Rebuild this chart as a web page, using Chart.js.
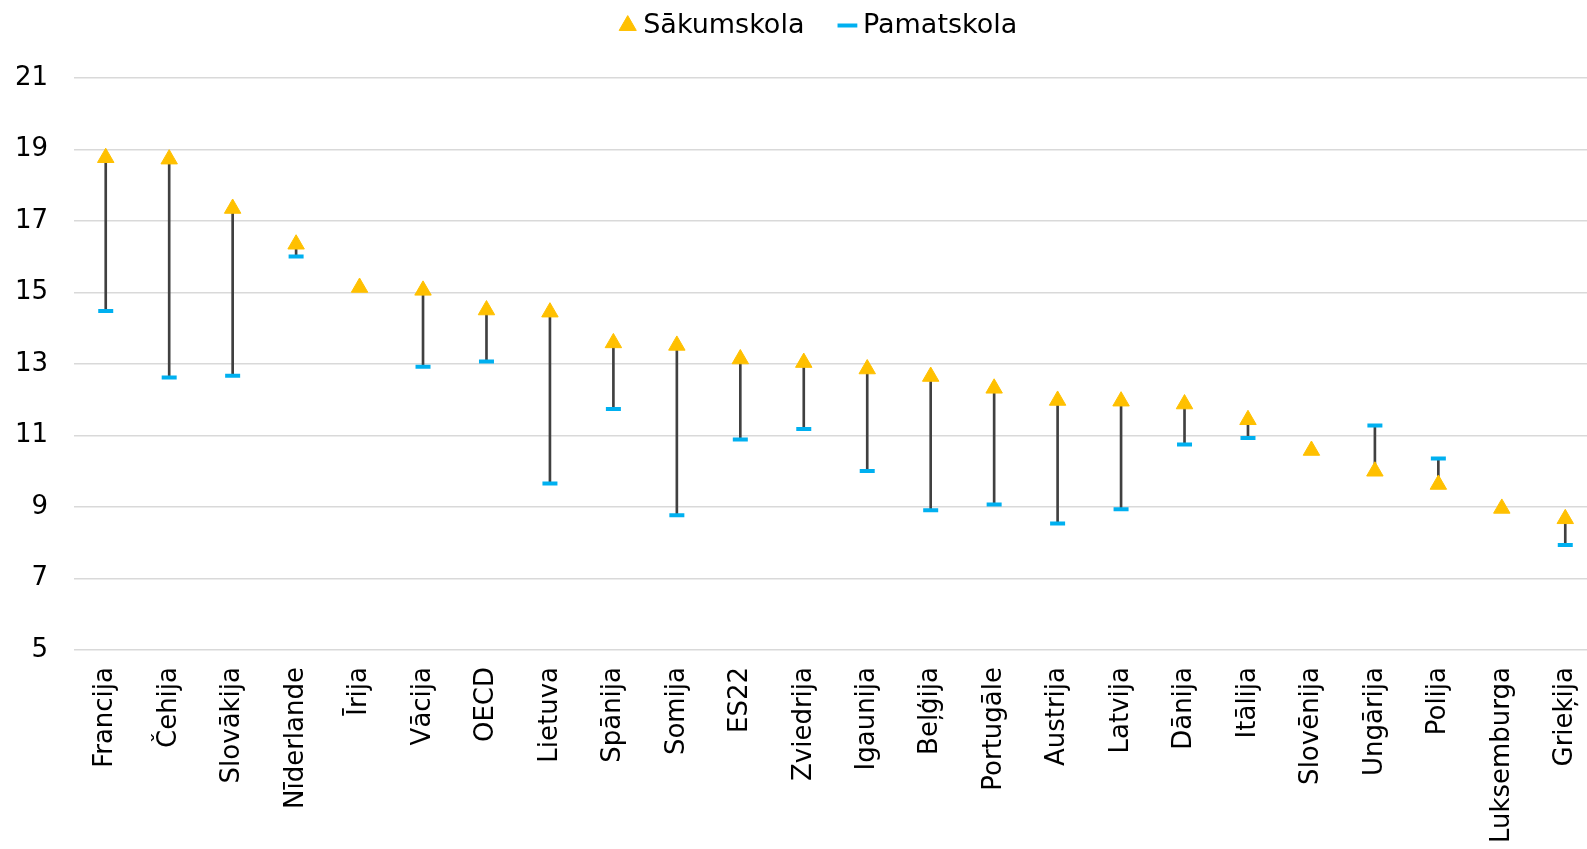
<!DOCTYPE html>
<html>
<head>
<meta charset="utf-8">
<script src="https://cdn.jsdelivr.net/npm/chart.js@4.4.1/dist/chart.umd.min.js"></script>
<style>
  html, body { margin: 0; padding: 0; background: #fff; overflow: hidden; }
  #wrap { width: 1620px; height: 849px; }
</style>
</head>
<body>
<div id="wrap"><canvas id="skolaChart"></canvas></div>
<script>
// Valstis (kategorijas)
var valstis = ['Francija', 'Čehija', 'Slovākija', 'Nīderlande', 'Īrija', 'Vācija', 'OECD', 'Lietuva',
    'Spānija', 'Somija', 'ES22', 'Zviedrija', 'Igaunija', 'Beļģija', 'Portugāle', 'Austrija',
    'Latvija', 'Dānija', 'Itālija', 'Slovēnija', 'Ungārija', 'Polija', 'Luksemburga', 'Grieķija'];

// Sākumskola (trijstūri)
var sakumskola = [18.77, 18.73, 17.35, 16.35, 15.14, 15.06, 14.51, 14.45, 13.59, 13.52, 13.14, 13.04,
    12.86, 12.65, 12.32, 11.98, 11.96, 11.88, 11.44, 10.58, 10.0, 9.63, 8.96, 8.67];

// Pamatskola (svītras)
var pamatskola = [14.48, 12.62, 12.67, 16.01, null, 12.92, 13.07, 9.66, 11.74, 8.77, 10.89, 11.18,
    10.01, 8.91, 9.07, 8.54, 8.94, 10.75, 10.93, null, 11.28, 10.36, null, 7.94];

// Ass
var yMin = 5, yMax = 21, yStep = 2;

// Savienojošās līnijas starp abām vērtībām
var savienojumi = valstis.map(function(v, i) {
    if (pamatskola[i] === null || sakumskola[i] === null) return null;
    return [Math.min(sakumskola[i], pamatskola[i]), Math.max(sakumskola[i], pamatskola[i])];
});

var fonts = 'DejaVu Sans, Verdana, sans-serif';
Chart.defaults.font.family = fonts;
Chart.defaults.font.size = 26;
Chart.defaults.color = '#000';

// Leģendu pabīda uz augšu (atstarpe starp vienumiem paliek liela)
var legendShift = {
    id: 'legendShift',
    afterLayout: function(chart) {
        var l = chart.legend;
        l.top -= 29; l.bottom -= 29;
        l.left -= 14; l.right -= 14;
    }
};

var ctx = document.getElementById('skolaChart').getContext('2d');
var skolaChart = new Chart(ctx, {
    type: 'bar',
    data: {
        labels: valstis,
        datasets: [
            {
                type: 'line',
                label: 'Sākumskola',
                data: sakumskola,
                showLine: false,
                pointStyle: 'triangle',
                pointRadius: 9.5,
                pointHoverRadius: 9.5,
                backgroundColor: '#FFC000',
                borderColor: '#FFC000',
                borderWidth: 1,
                order: 0
            },
            {
                type: 'line',
                label: 'Pamatskola',
                data: pamatskola,
                showLine: false,
                pointStyle: 'line',
                pointRadius: 7.5,
                pointHoverRadius: 7.5,
                pointBorderWidth: 4,
                backgroundColor: '#00B0F0',
                borderColor: '#00B0F0',
                borderWidth: 4,
                order: 1
            },
            {
                label: 'savienojums',
                data: savienojumi,
                backgroundColor: '#404040',
                borderWidth: 0,
                barThickness: 2,
                order: 2
            }
        ]
    },
    options: {
        responsive: true,
        maintainAspectRatio: false,
        animation: false,
        devicePixelRatio: 1,
        layout: {
            padding: { left: 0, right: 23, top: 0, bottom: 0 }
        },
        scales: {
            x: {
                offset: true,
                grid: { display: false, drawTicks: false },
                border: { display: false },
                ticks: {
                    autoSkip: false,
                    minRotation: 90,
                    maxRotation: 90,
                    padding: 17
                },
                afterFit: function(scale) { scale.height = 199; }
            },
            y: {
                min: yMin,
                max: yMax,
                border: { display: false },
                grid: {
                    color: '#d9d9d9',
                    lineWidth: 1.5,
                    drawTicks: false
                },
                ticks: {
                    stepSize: yStep,
                    padding: 26
                },
                afterFit: function(scale) { scale.width = 74; }
            }
        },
        plugins: {
            legend: {
                display: true,
                position: 'top',
                fullSize: false,
                labels: {
                    usePointStyle: true,
                    boxWidth: 4,
                    boxHeight: 14,
                    padding: 41,
                    font: { size: 27 },
                    filter: function(item) { return item.text !== 'savienojums'; }
                }
            },
            tooltip: { enabled: false }
        }
    },
    plugins: [legendShift]
});
</script>
</body>
</html>
